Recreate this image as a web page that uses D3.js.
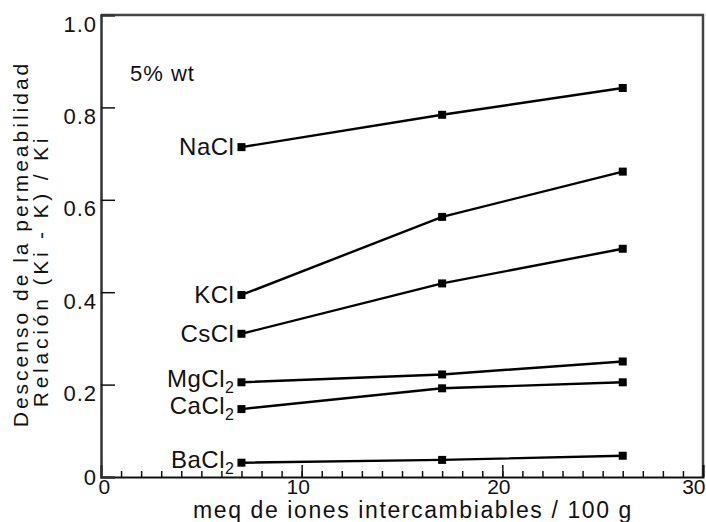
<!DOCTYPE html>
<html>
<head>
<meta charset="utf-8">
<script src="https://cdn.jsdelivr.net/npm/d3@7"></script>
<style>
  body { margin: 0; background: #fff; }
  text { font-family: "Liberation Sans", Arial, sans-serif; fill: #111; }
</style>
</head>
<body>
<div class="chart"></div>
<script>
// values
var meq = [7, 17, 26];
var salts = ['NaCl', 'KCl', 'CsCl', 'MgCl2', 'CaCl2', 'BaCl2'];
var naCl = [0.714, 0.784, 0.842];
var kCl = [0.394, 0.563, 0.661];
var csCl = [0.310, 0.419, 0.494];
var mgCl2 = [0.205, 0.222, 0.250];
var caCl2 = [0.147, 0.192, 0.205];
var baCl2 = [0.031, 0.037, 0.046];
var xTicks = [0, 10, 20, 30];
var yTicks = [0, 0.2, 0.4, 0.6, 0.8, 1.0];
var note = '5% wt';
var xTitle = 'meq de iones intercambiables / 100 g';
var yTitle = ['Descenso de la permeabilidad', 'Relación (Ki - K) / Ki'];

var seriesValues = [naCl, kCl, csCl, mgCl2, caCl2, baCl2];

var svgWidth = 706, svgHeight = 522;
var plotLeft = 101, plotRight = 703, plotTop = 15, plotBottom = 477;

var svg = d3.select('.chart').append('svg')
  .attr('width', svgWidth).attr('height', svgHeight);

var x = d3.scaleLinear().domain([0, 30]).range([plotLeft, plotRight]);
var y = d3.scaleLinear().domain([0, 1]).range([plotBottom, plotTop]);

// frame top + right
svg.append('path')
  .attr('d', 'M' + plotLeft + ',' + plotTop + 'H' + plotRight + 'V' + plotBottom)
  .attr('fill', 'none').attr('stroke', '#444').attr('stroke-width', 2.5);

// minor x ticks (every unit, pointing up)
svg.append('g')
  .attr('transform', 'translate(0,' + plotBottom + ')')
  .call(d3.axisBottom(x).tickValues(d3.range(1, 30)).tickSize(-6).tickFormat(''))
  .call(function (g) { g.select('.domain').remove(); })
  .selectAll('line').attr('stroke', '#111').attr('stroke-width', 1.5);

// major x ticks with labels
var xAxis = svg.append('g')
  .attr('transform', 'translate(0,' + plotBottom + ')')
  .call(d3.axisBottom(x).tickValues(xTicks).tickSize(-12).tickPadding(2).tickFormat(d3.format('d')));
xAxis.select('.domain').attr('stroke', '#111').attr('stroke-width', 2);
xAxis.selectAll('line').attr('stroke', '#111').attr('stroke-width', 1.5);
xAxis.selectAll('text')
  .style('font-size', '21px')
  .attr('text-anchor', function (d) { return d === 0 ? 'start' : (d === 30 ? 'end' : 'middle'); })
  .attr('dx', function (d) { return d === 0 ? -3 : (d === 30 ? 2 : -4); });

// y axis, ticks pointing in
var yAxis = svg.append('g')
  .attr('transform', 'translate(' + plotLeft + ',0)')
  .call(d3.axisLeft(y).tickValues(yTicks).tickSize(-14).tickPadding(4)
    .tickFormat(function (d) { return d === 0 ? '0' : d3.format('.1f')(d); }));
yAxis.select('.domain').attr('stroke', '#333').attr('stroke-width', 2.5);
yAxis.selectAll('line').attr('stroke', '#111').attr('stroke-width', 1.5)
  .attr('opacity', function (d) { return d === 0 || d === 1 ? 0 : 1; });
yAxis.selectAll('text')
  .style('font-size', '22px')
  .style('letter-spacing', '1px')
  .attr('dy', function (d) { return d === 0 ? 7 : 16; });

// lines + markers
var line = d3.line()
  .x(function (d, i) { return x(meq[i]); })
  .y(function (d) { return y(d); });

var series = svg.selectAll('.series')
  .data(seriesValues)
  .enter().append('g').attr('class', 'series');

series.append('path')
  .attr('d', line)
  .attr('fill', 'none').attr('stroke', '#000').attr('stroke-width', 2.4);

series.selectAll('rect')
  .data(function (d) { return d; })
  .enter().append('rect')
  .attr('x', function (d, i) { return x(meq[i]) - 4; })
  .attr('y', function (d) { return y(d) - 4; })
  .attr('width', 8).attr('height', 8)
  .attr('fill', '#000');

// salt labels to the left of first point
series.each(function (vals, i) {
  var m = salts[i].match(/^(.*?)(\d*)$/);
  var t = d3.select(this).append('text')
    .attr('x', x(meq[0]) - 7)
    .attr('y', y(vals[0]) + (m[2] ? 5 : 8))
    .attr('text-anchor', 'end')
    .style('font-size', '24px')
    .style('letter-spacing', '0.5px');
  t.append('tspan').text(m[1]);
  if (m[2]) {
    t.append('tspan').attr('dy', 6).style('font-size', '16px').text(m[2]);
  }
});

svg.append('text')
  .attr('x', 130).attr('y', 81)
  .style('font-size', '22px')
  .style('letter-spacing', '1px')
  .text(note);

svg.append('text')
  .attr('x', 413).attr('y', 518)
  .attr('text-anchor', 'middle')
  .style('font-size', '23px')
  .style('letter-spacing', '1.6px')
  .text(xTitle);

svg.append('text')
  .attr('transform', 'translate(28,244) rotate(-90)')
  .attr('text-anchor', 'middle')
  .style('font-size', '21px')
  .style('letter-spacing', '3px')
  .text(yTitle[0]);

svg.append('text')
  .attr('transform', 'translate(48,271) rotate(-90)')
  .attr('text-anchor', 'middle')
  .style('font-size', '21px')
  .style('letter-spacing', '3.8px')
  .text(yTitle[1]);
</script>
</body>
</html>
